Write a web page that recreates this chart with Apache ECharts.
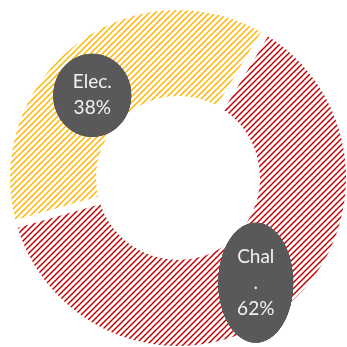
<!DOCTYPE html>
<html>
<head>
<meta charset="utf-8">
<style>
  html, body { margin: 0; padding: 0; background: #ffffff; }
  #chart { width: 347px; height: 347px; }
</style>
<script src="https://cdn.jsdelivr.net/npm/echarts@6/dist/echarts.min.js"></script>
</head>
<body>
<div id="chart"></div>
<script>
// Share of each category (percent)
var categories = ['Chal.', 'Elec.'];
var values = [62, 38];
// Label text as it is wrapped inside each bubble
var labelNames = ['Chal\n.', 'Elec.'];
var hatchColors = ['#C00000', '#FFB400'];

// Diagonal "/" hatch tile used as the slice fill
function hatch(color) {
  var s = 6;
  var c = document.createElement('canvas');
  c.width = s; c.height = s;
  var ctx = c.getContext('2d');
  ctx.strokeStyle = color;
  ctx.lineWidth = 1.5;
  ctx.lineCap = 'square';
  [[0, s, s, 0], [-s / 2, s / 2, s / 2, -s / 2], [s / 2, s * 1.5, s * 1.5, s / 2]].forEach(function (l) {
    ctx.beginPath();
    ctx.moveTo(l[0], l[1]);
    ctx.lineTo(l[2], l[3]);
    ctx.stroke();
  });
  return c;
}

// Filled grey ellipse, stretched to the label box
function ellipse(w, h) {
  var c = document.createElement('canvas');
  c.width = w * 2; c.height = h * 2;
  var ctx = c.getContext('2d');
  ctx.fillStyle = '#595959';
  ctx.beginPath();
  ctx.ellipse(w, h, w - 0.5, h - 0.5, 0, 0, Math.PI * 2);
  ctx.fill();
  return c;
}

var bubbleSize = [[76, 121], [79, 84]];
var bubbleOffset = [[0, 3], [-8, 19]];

var data = categories.map(function (name, i) {
  return {
    name: name,
    value: values[i],
    itemStyle: {
      color: { image: hatch(hatchColors[i]), repeat: 'repeat' }
    },
    label: {
      width: bubbleSize[i][0],
      height: bubbleSize[i][1],
      offset: bubbleOffset[i],
      backgroundColor: { image: ellipse(bubbleSize[i][0], bubbleSize[i][1]) }
    }
  };
});

var chart = echarts.init(document.getElementById('chart'), null, { renderer: 'canvas' });
chart.setOption({
  animation: false,
  series: [{
    type: 'pie',
    center: [178, 178],
    radius: [78, 172],
    startAngle: 59,
    clockwise: true,
    avoidLabelOverlap: false,
    itemStyle: { borderColor: '#ffffff', borderWidth: 8 },
    label: {
      show: true,
      position: 'inside',
      rotate: 0,
      color: '#F2F2F2',
      fontFamily: 'Lato',
      fontSize: 19,
      lineHeight: 26,
      align: 'center',
      verticalAlign: 'middle',
      formatter: function (p) {
        return labelNames[p.dataIndex] + '\n' + Math.round(p.percent) + '%';
      }
    },
    labelLine: { show: false },
    emphasis: { disabled: true },
    data: data
  }]
});
</script>
</body>
</html>
